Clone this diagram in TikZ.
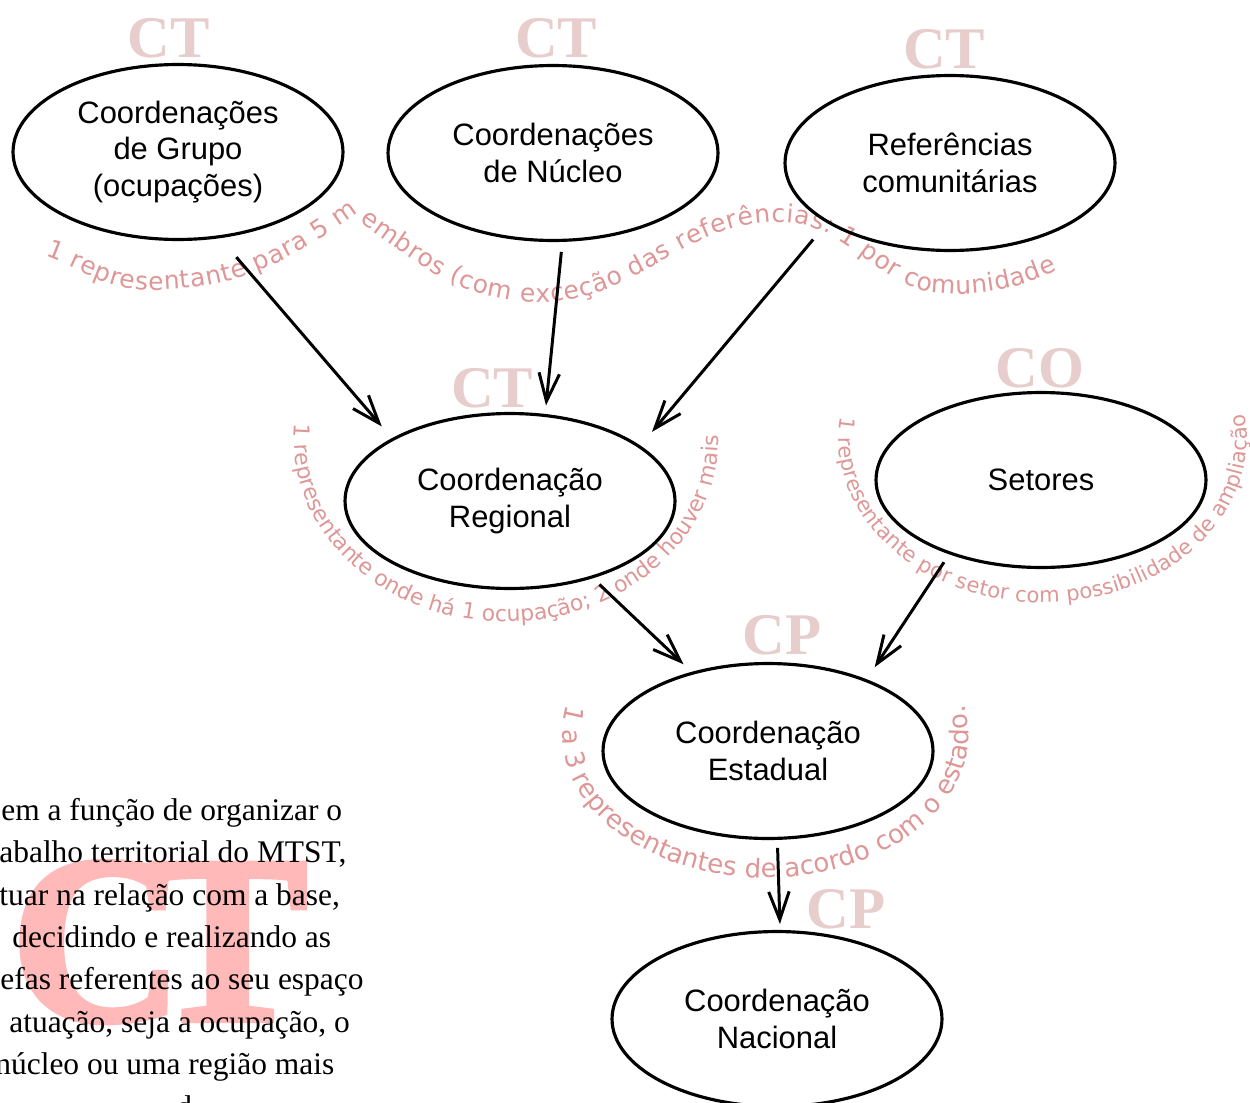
\documentclass[tikz,border=0pt]{standalone}
\usepackage{fontspec}
\setmainfont{Liberation Serif}
\newfontfamily\nodefont{Liberation Sans}
\newfontfamily\curvefont{DejaVu Sans}
\newfontfamily\heavyfont[FakeBold=2.5]{Liberation Serif Bold}
\usetikzlibrary{shapes.geometric,arrows.meta,decorations.text}
\definecolor{tagpink}{RGB}{232,205,205}
\definecolor{curvepink}{RGB}{222,150,150}
\definecolor{bigpink}{RGB}{255,185,185}

\begin{document}
\begin{tikzpicture}[x=0.02cm, y=0.02cm,
  coord/.style={draw, ellipse, line width=1.8pt, minimum width=6.6cm, minimum height=3.5cm, inner sep=0pt, align=center, font=\nodefont\fontsize{17.6}{21}\selectfont},
  arr/.style={line width=1.7pt, -{Straight Barb[length=5.6mm, width=4.1mm]}},
  tag/.style={anchor=base, inner sep=0pt, text=tagpink, font=\bfseries\fontsize{33.6}{34}\selectfont},
  big/.style={anchor=base, inner sep=0pt, text=bigpink, font=\heavyfont\fontsize{136}{136}\selectfont},
  body/.style={anchor=base west, inner sep=0pt, font=\fontsize{17.9}{24}\selectfont},
  curve/.style={decorate, decoration={text along path, text align={fit to path}, text color=curvepink}}]
\path[use as bounding box, clip] (0,0) rectangle (1250,-1102);
% text at the bottom left
\node[big] (B_C) at (97,-1020) {C};
\node[big] (B_T) at (228,-1020) {T};
\node[body] (L_1) at (1,-820) {em a função de organizar o};
\node[body] (L_2) at (-1,-862) {abalho territorial do MTST,};
\node[body] (L_3) at (-1,-905) {tuar na relação com a base,};
\node[body] (L_4) at (12,-947) {decidindo e realizando as};
\node[body] (L_5) at (0,-989) {efas referentes ao seu espaço};
\node[body] (L_6) at (9,-1032) {atuação, seja a ocupação, o};
\node[body] (L_7) at (-5,-1074) {núcleo ou uma região mais};
\node[body] (L_8) at (176,-1117) {d};
% curved texts
\path[curve, decoration={text={|\curvefont\fontsize{14.2}{14.2}\selectfont|1 representante para 5 membros (com exceção das referências: 1 por comunidade}}]
  (45,-256) to[out=-20, in=180] (150,-290) to[out=0, in=-145] (352,-217)
  to[out=-35, in=180] (540,-302) to[out=0, in=180] (780,-222)
  to[out=0, in=180] (950,-294) to[out=0, in=-155] (1057,-270);
\path[curve, decoration={text={|\curvefont\fontsize{12.5}{12.5}\selectfont|1 representante onde há 1 ocupação; 2 onde houver mais}}]
  (295,-424) arc[start angle=175, end angle=360, x radius=212, y radius=182];
\path[curve, decoration={text={|\curvefont\fontsize{12}{12}\selectfont|1 representante por setor com possibilidade de ampliação}}]
  (841,-417) arc[start angle=172, end angle=369, x radius=204, y radius=163];
\path[curve, decoration={text={|\curvefont\fontsize{14.8}{14.8}\selectfont|1 a 3 representantes de acordo com o estado.}}]
  (567,-705) arc[start angle=168, end angle=372, x radius=203, y radius=143];
% tags
\node[tag] (T_0_0) at (169,-57) {CT};
\node[tag] (T_0_1) at (556,-57) {CT};
\node[tag] (T_0_2) at (944,-68) {CT};
\node[tag] (T_1_0) at (492,-407) {CT};
\node[tag] (T_1_1) at (1040,-387) {CO};
\node[tag] (T_2_0) at (782,-654) {CP};
\node[tag] (T_3_0) at (846,-928) {CP};
% coordinations
\node[coord] (P_0_0) at (178,-152) {Coordenações\\de Grupo\\(ocupações)};
\node[coord] (P_0_1) at (553,-153) {Coordenações\\de Núcleo};
\node[coord] (P_0_2) at (950,-163) {Referências\\comunitárias};
\node[coord] (P_1_0) at (510,-501) {Coordenação\\Regional};
\node[coord] (P_1_1) at (1041,-480) {Setores};
\node[coord] (P_2_0) at (768,-751) {Coordenação\\Estadual};
\node[coord] (P_3_0) at (777,-1019) {Coordenação\\Nacional};
\draw[arr, shorten <=0.5cm, shorten >=0.31cm] (P_0_0.-64) -- (P_1_0.152.4);
\draw[arr, shorten <=0.2cm, shorten >=0.17cm] (P_0_1.-84.8) -- (P_1_0.68);
\draw[arr, shorten <=0.43cm, shorten >=0.36cm] (P_0_2.206.6) -- (P_1_0.23.5);
\draw[arr, shorten <=0.18cm, shorten >=0.22cm] (P_1_0.-43.3) -- (P_2_0.134.3);
\draw[arr, shorten <=0.19cm, shorten >=0.29cm] (P_1_1.-141.4) -- (P_2_0.36.5);
\draw[arr, shorten <=0.16cm, shorten >=0.12cm] (P_2_0.-84) -- (P_3_0.88.2);
\end{tikzpicture}
\end{document}
